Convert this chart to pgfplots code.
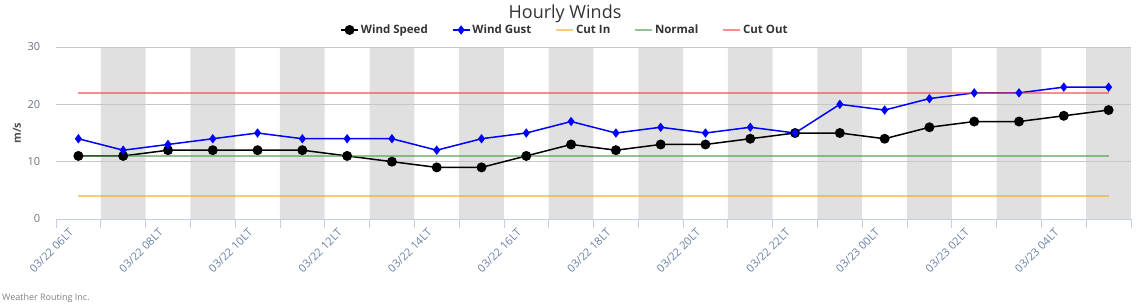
\documentclass[border=0pt]{standalone}
\usepackage{pgfplots}
\pgfplotsset{compat=1.18}
\usepackage{fontspec}
\setmainfont{Open Sans}
\definecolor{band}{HTML}{E0E0E0}
\definecolor{gridc}{HTML}{C6C6C6}
\definecolor{axisc}{HTML}{C0D0E0}
\definecolor{xlab}{HTML}{6A80A8}
\definecolor{ylab}{HTML}{6B7385}
\definecolor{cutin}{HTML}{F5A623}
\definecolor{normal}{HTML}{4C9A4C}
\definecolor{cutout}{HTML}{FF4040}
\definecolor{gust}{HTML}{0000FF}
\definecolor{txt}{HTML}{333333}
\begin{document}
\begin{tikzpicture}
\path[use as bounding box] (0pt,0pt) rectangle (1146pt,-304pt);
\begin{axis}[
  at={(56pt,-219pt)}, anchor=south west,
  scale only axis, width=1075pt, height=172pt,
  xmin=-0.5, xmax=23.5, ymin=0, ymax=30,
  axis lines*=left,
  y axis line style={draw=none},
  x axis line style={draw=axisc, line width=0.8pt},
  ytick={0,10,20,30},
  ytick style={draw=none},
  yticklabel style={font=\fontsize{11}{13}\selectfont, color=ylab, anchor=east, xshift=-8pt},
  /pgf/number format/assume math mode=true,
  xtick={0,2,...,22},
  xticklabels={03/22 06LT,03/22 08LT,03/22 10LT,03/22 12LT,03/22 14LT,03/22 16LT,03/22 18LT,03/22 20LT,03/22 22LT,03/23 00LT,03/23 02LT,03/23 04LT},
  major x tick style={draw=none},
  minor xtick={-0.5,0.5,...,23.5},
  minor x tick style={draw=axisc, line width=0.8pt},
  tick align=outside,
  minor tick length=9pt,
  xticklabel style={font=\fontsize{11}{13}\selectfont, color=xlab, xshift=-10pt, yshift=-3pt, rotate=45, anchor=north east, inner sep=1pt},
  legend columns=5,
  legend style={at={(0.4735,1.099)}, anchor=center, draw=none, fill=none,
    font=\bfseries\fontsize{11.5}{13}\selectfont, text=txt,
    /tikz/every even column/.append style={column sep=22pt},
    legend cell align=left},
]
\addplot[ybar, bar width=1, bar shift=0pt, fill=band, draw=none, forget plot]
  coordinates {(1,30) (3,30) (5,30) (7,30) (9,30) (11,30) (13,30) (15,30) (17,30) (19,30) (21,30) (23,30)};
\addplot[gridc, line width=0.8pt, forget plot] coordinates {(-0.5,10) (23.5,10)};
\addplot[gridc, line width=0.8pt, forget plot] coordinates {(-0.5,20) (23.5,20)};
\addplot[gridc, line width=0.8pt, forget plot] coordinates {(-0.5,30) (23.5,30)};
\addplot[black, line width=1.5pt, mark=*, mark size=4.2pt, mark options={solid}] coordinates {
(0,11) (1,11) (2,12) (3,12) (4,12) (5,12) (6,11) (7,10) (8,9) (9,9) (10,11) (11,13)
(12,12) (13,13) (14,13) (15,14) (16,15) (17,15) (18,14) (19,16) (20,17) (21,17) (22,18) (23,19)};
\addlegendentry{Wind Speed}
\addplot[gust, line width=1.5pt, mark=diamond*, mark size=3.5pt] coordinates {
(0,14) (1,12) (2,13) (3,14) (4,15) (5,14) (6,14) (7,14) (8,12) (9,14) (10,15) (11,17)
(12,15) (13,16) (14,15) (15,16) (16,15) (17,20) (18,19) (19,21) (20,22) (21,22) (22,23) (23,23)};
\addlegendentry{Wind Gust}
\addplot[cutin, line width=1.6pt, opacity=0.6] coordinates {(0,4) (23,4)};
\addlegendentry{Cut In}
\addplot[normal, line width=1.6pt, opacity=0.6] coordinates {(0,11) (23,11)};
\addlegendentry{Normal}
\addplot[cutout, line width=1.6pt, opacity=0.6] coordinates {(0,22) (23,22)};
\addlegendentry{Cut Out}
\end{axis}
\node[font=\fontsize{18}{21}\selectfont, text=txt] at (565pt,-14pt) {Hourly Winds};
\node[font=\bfseries\fontsize{11}{13}\selectfont, text=txt!85, rotate=90] at (17pt,-133pt) {m/s};
\node[anchor=south west, font=\fontsize{9}{11}\selectfont, text=gray, inner sep=1pt] at (1pt,-304pt) {Weather Routing Inc.};
\end{tikzpicture}
\end{document}
